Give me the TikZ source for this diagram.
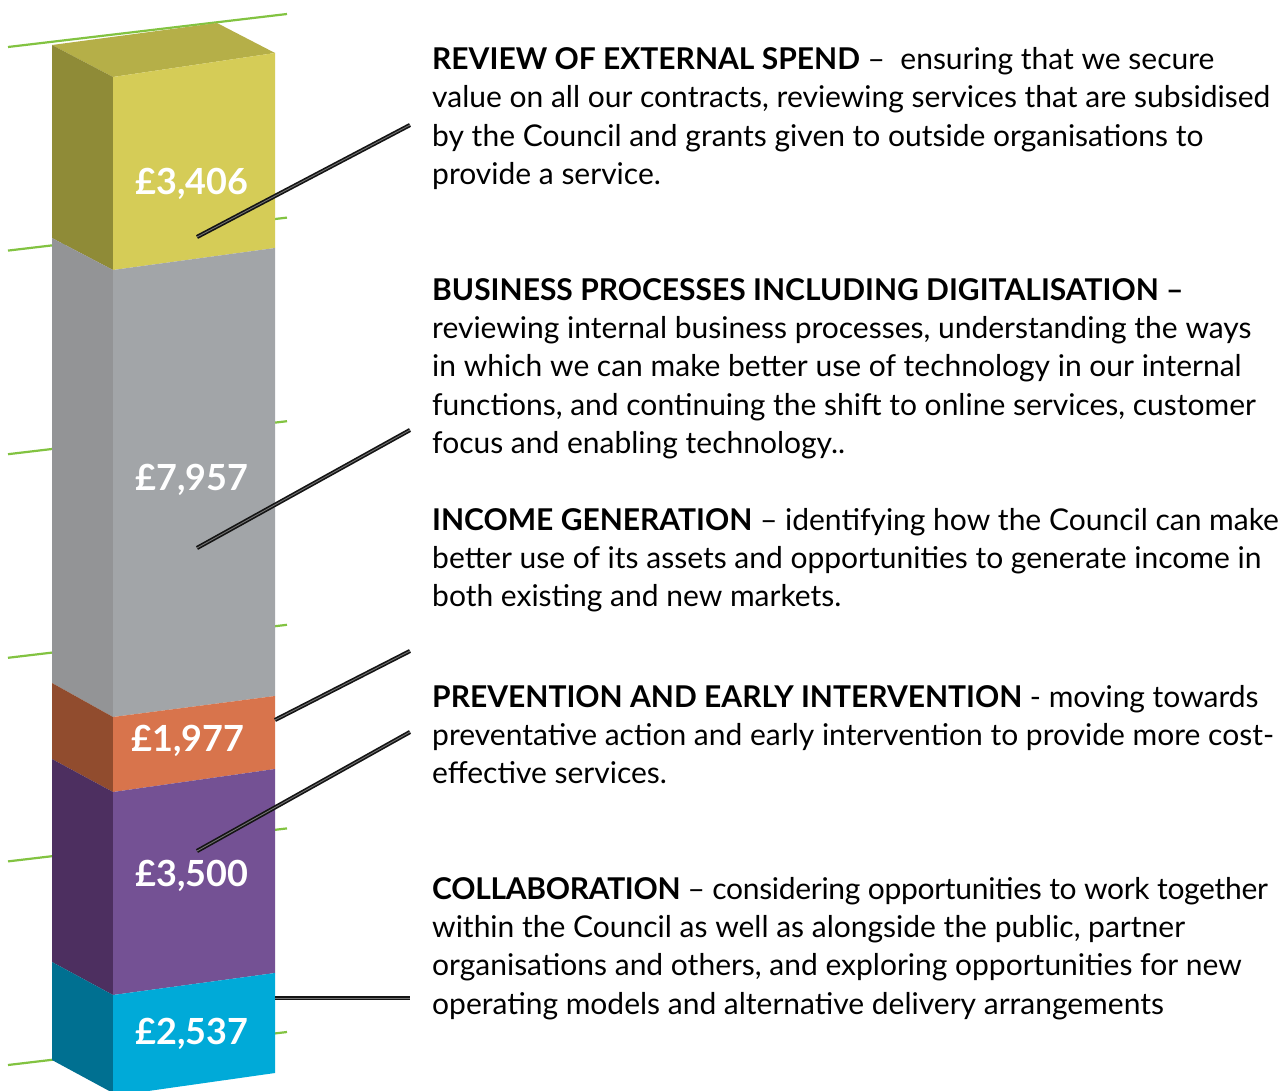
\documentclass[tikz,border=0pt]{standalone}
\usepackage{fontspec}
\setmainfont{Lato}
\begin{document}
\begin{tikzpicture}[x=1pt,y=-1pt,
  grid/.style={draw=gridgreen,line width=2.2pt},
  value/.style={text=white,font=\fontsize{36}{40}\selectfont\bfseries,inner sep=0},
  desc/.style={anchor=base west,align=left,inner sep=0,font=\fontsize{30}{38.4}\selectfont},
  leader/.style={draw=black!92,line width=4.2pt},
  shine/.style={draw=black!55,line width=0.9pt}]
\definecolor{gridgreen}{RGB}{130,195,65}
\definecolor{yelF}{RGB}{213,204,87}
\definecolor{yelL}{RGB}{143,139,55}
\definecolor{yelT}{RGB}{181,175,72}
\definecolor{gryF}{RGB}{162,165,168}
\definecolor{gryL}{RGB}{147,148,150}
\definecolor{orgF}{RGB}{216,116,76}
\definecolor{orgL}{RGB}{145,76,46}
\definecolor{purF}{RGB}{116,81,148}
\definecolor{purL}{RGB}{77,47,96}
\definecolor{cyaF}{RGB}{0,170,216}
\definecolor{cyaL}{RGB}{0,112,145}
\useasboundingbox (0,0) rectangle (1280,1091);
\clip (0,0) rectangle (1280,1091);
\fill[white] (0,0) rectangle (1280,1091);
% gridlines
\foreach \i in {0,...,5}{
  \draw[grid] (8,{47+203.6*\i}) -- (287,{14+203.6*\i});
}
% column: top face
\fill[yelT] (52,45) -- (217,23) -- (275,53) -- (113,77) -- cycle;
% segments: left y at 52, mid y at 113, right y at 275
\fill[yelL] (52,45) -- (113,77) -- (113,270) -- (52,238) -- cycle;
\fill[yelF] (113,77) -- (275,53) -- (275,248) -- (113,270) -- cycle;
\fill[gryL] (52,238) -- (113,270) -- (113,717) -- (52,683) -- cycle;
\fill[gryF] (113,270) -- (275,248) -- (275,696) -- (113,717) -- cycle;
\fill[orgL] (52,683) -- (113,717) -- (113,792) -- (52,759) -- cycle;
\fill[orgF] (113,717) -- (275,696) -- (275,769) -- (113,792) -- cycle;
\fill[purL] (52,759) -- (113,792) -- (113,995) -- (52,962) -- cycle;
\fill[purF] (113,792) -- (275,769) -- (275,973) -- (113,995) -- cycle;
\fill[cyaL] (52,962) -- (113,995) -- (113,1093) -- (52,1060) -- cycle;
\fill[cyaF] (113,995) -- (275,973) -- (275,1073) -- (113,1096) -- cycle;
% values
\node[value] (v1) at (192,184) {£3,406};
\node[value] (v2) at (192,480) {£7,957};
\node[value] (v3) at (188,741) {£1,977};
\node[value] (v4) at (192,876) {£3,500};
\node[value] (v5) at (192,1034) {£2,537};
% descriptions (base anchor = baseline of last line)
\node[desc] (t1) at (432,184.7) {\textbf{REVIEW OF EXTERNAL SPEND} –\ \ ensuring that we secure\\
value on all our contracts, reviewing services that are subsidised\\
by the Council and grants given to outside organisations to\\
provide a service.};
\node[desc] (t2) at (432,453.6) {\textbf{BUSINESS PROCESSES INCLUDING DIGITALISATION –}\\
reviewing internal business processes, understanding the ways\\
in which we can make better use of technology in our internal\\
functions, and continuing the shift to online services, customer\\
focus and enabling technology..};
\node[desc] (t3) at (432,606.8) {\textbf{INCOME GENERATION} – identifying how the Council can make\\
better use of its assets and opportunities to generate income in\\
both existing and new markets.};
\node[desc] (t4) at (432,783.8) {\textbf{PREVENTION AND EARLY INTERVENTION} - moving towards\\
preventative action and early intervention to provide more cost-\\
effective services.};
\node[desc] (t5) at (432,1014.2) {{\addfontfeature{LetterSpace=-1}\textbf{COLLABORATION} – considering opportunities to work together}\\
within the Council as well as alongside the public, partner\\
organisations and others, and exploring opportunities for new\\
operating models and alternative delivery arrangements};
% leader end points
\coordinate (a1) at (197,237);  \coordinate (b1) at (410,125);
\coordinate (a2) at (197,548);  \coordinate (b2) at (410,430);
\coordinate (a3) at (275,720);  \coordinate (b3) at (410,651);
\coordinate (a4) at (197,851);  \coordinate (b4) at (410,732);
\coordinate (a5) at (275,998);  \coordinate (b5) at (410,998);
\foreach \s/\e in {a1/b1,a2/b2,a3/b3,a4/b4,a5/b5}{
  \draw[leader] (\s) -- (\e);
  \draw[shine] (\s) -- (\e);
}
\end{tikzpicture}
\end{document}
